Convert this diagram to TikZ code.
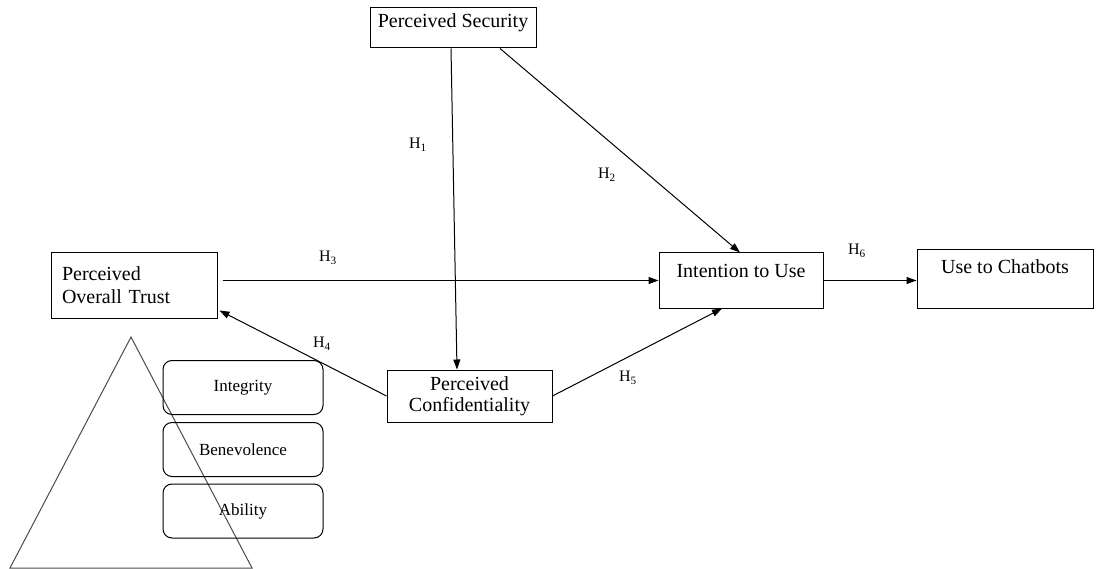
\documentclass[tikz,border=0pt]{standalone}
\usepackage{fontspec}
\setmainfont{Liberation Serif}
\usetikzlibrary{arrows.meta}
\tikzset{
  box/.style={draw, line width=1pt, inner sep=0pt, font=\fontsize{20}{23}\selectfont},
  trait/.style={draw, line width=1pt, rounded corners=9pt, minimum width=160pt, minimum height=54pt, inner sep=0pt, font=\fontsize{17}{20}\selectfont},
  link/.style={line width=1pt, -{Triangle[length=10pt,width=7pt]}},
  hyp/.style={inner sep=0pt, font=\fontsize{16}{18}\selectfont}
}
\begin{document}
\begin{tikzpicture}[x=1pt,y=-1pt]
\useasboundingbox (0,0) rectangle (1097,569);
\draw[line width=1pt, black!70] (10,568) -- (131,337) -- (252,568) -- cycle;
\node[box, minimum width=166pt, text height=20pt, text depth=20pt] (sec) at (453,28){Perceived Security};
\node[box, minimum width=166pt, minimum height=65pt, text width=144pt, align=left] (pot) at (134,285.5){Perceived\\Overall Trust};
\node[box, minimum width=164pt, text height=24pt, text depth=31pt] (iu) at (741,280.5){Intention to Use};
\node[box, minimum width=176pt, text height=23pt, text depth=35pt] (uc) at (1005,279){Use to Chatbots};
\node[box, minimum width=165pt, minimum height=52pt, align=center, font=\fontsize{20}{21}\selectfont] (pc) at (469.5,396){Perceived\\Confidentiality};
\node[trait] (integ) at (243,387.5){Integrity};
\node[trait] (benev) at (243,449.5){Benevolence};
\node[trait] (abil) at (243,511){Ability};
\draw[link]([xshift=-2pt]sec.south) -- ([xshift=-12.5pt]pc.north);
\draw[link]([xshift=47pt]sec.south) -- ([xshift=-1pt]iu.north);
\draw[link]([xshift=5pt]iu.west -| pot.east) -- (iu.west);
\draw[link](pc.west) -- ([yshift=8pt,xshift=2pt]pot.south east);
\draw[link](pc.east) -- ([xshift=-19pt]iu.south);
\draw[link](iu.east) -- (iu.east -| uc.west);
\node[hyp] (h1) at (418,145){H\textsubscript{1}};
\node[hyp] (h2) at (607,175){H\textsubscript{2}};
\node[hyp] (h3) at (328,258){H\textsubscript{3}};
\node[hyp] (h4) at (322,344){H\textsubscript{4}};
\node[hyp] (h5) at (628,378){H\textsubscript{5}};
\node[hyp] (h6) at (857,251){H\textsubscript{6}};
\end{tikzpicture}
\end{document}
